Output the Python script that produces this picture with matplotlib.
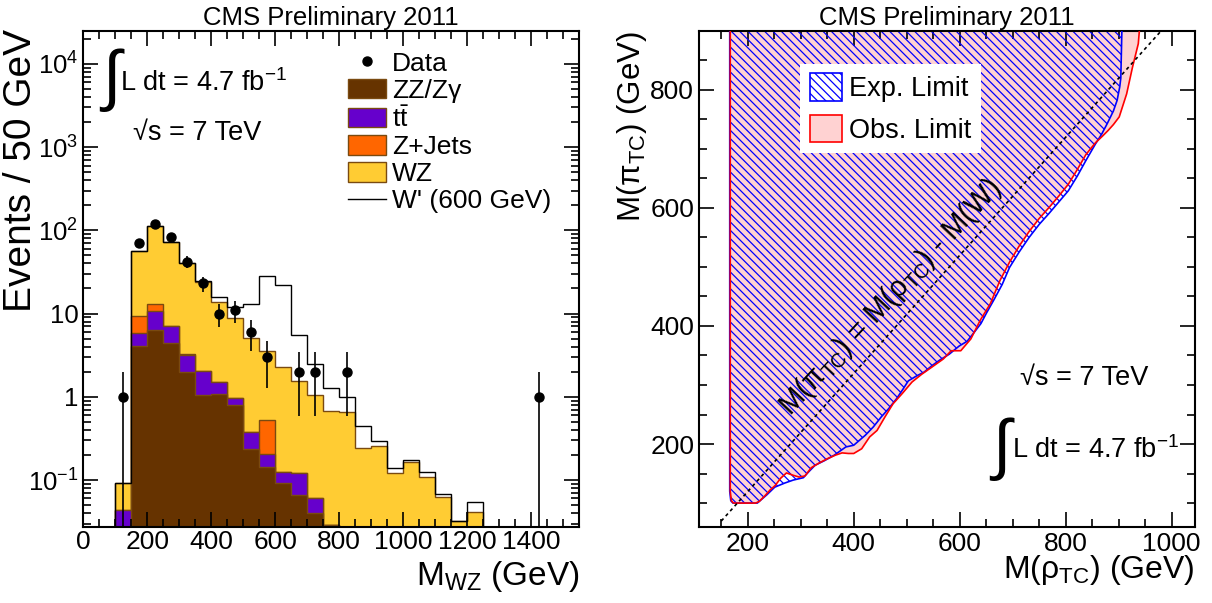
import numpy as np
import matplotlib
matplotlib.use('Agg')
import matplotlib.pyplot as plt
from matplotlib.patches import Patch
from matplotlib.lines import Line2D
from matplotlib.ticker import MultipleLocator, LogLocator, NullFormatter

plt.rcParams['font.family'] = ['Liberation Sans', 'DejaVu Sans']
plt.rcParams['mathtext.fontset'] = 'custom'
plt.rcParams['mathtext.rm'] = 'Liberation Sans'
plt.rcParams['mathtext.it'] = 'Liberation Sans:italic'
plt.rcParams['mathtext.bf'] = 'Liberation Sans:bold'
plt.rcParams['mathtext.sf'] = 'Liberation Sans'
plt.rcParams['hatch.linewidth'] = 0.9

# ---- left panel: M_WZ spectrum, 50 GeV bins from 100 to 1250
edges = np.arange(100, 1251, 50)
zz = [0, 4.06, 6.4, 4.37, 1.96, 1.05, 1.09, 0.79, 0.233, 0.145, 0.091, 0.066,
      0.04, 0.029, 0, 0, 0, 0, 0, 0, 0, 0, 0]
ttbar = [0.044, 1.84, 4.2, 2.68, 1.2, 1.0, 0.41, 0.165, 0.147, 0.06, 0.035, 0.054,
         0.02, 0, 0, 0, 0, 0, 0, 0, 0, 0, 0]
zjets = [0, 3.4, 2.6, 0, 0.15, 0, 0, 0, 0, 0.32, 0, 0,
         0, 0, 0, 0, 0, 0, 0, 0, 0, 0, 0]
wz = [0.047, 47.2, 98.5, 65.3, 36.9, 22.0, 12.4, 7.9, 4.77, 3.03, 2.16, 1.44,
      0.98, 0.64, 0.66, 0.24, 0.258, 0.12, 0.166, 0.108, 0.063, 0.032, 0.041]
wprime = [0, 0, 0, 0, 0.5, 0.4, 1.7, 3.1, 7.75, 24.7, 19.8, 4.0,
          1.46, 0.61, 0.34, 0.21, 0.04, 0.018, 0.008, 0.016, 0.005, 0, 0.014]

data_mass = [125, 175, 225, 275, 325, 375, 425, 475, 525, 575, 675, 725, 825, 1425]
data_counts = [1, 70, 120, 82, 42, 23, 10, 11, 6, 3, 2, 2, 2, 1]

ytick_vals = [0.1, 1, 10, 100, 1000, 10000]
ytick_labels = ['10$^{-1}$', '1', '10', '10$^{2}$', '10$^{3}$', '10$^{4}$']

# ---- right panel: exclusion contours in (M(rho_TC), M(pi_TC))
exp_rho = [166, 166, 168, 172, 218, 236, 251, 270, 286, 305, 314, 327, 345, 363,
           385, 400, 422, 437, 452, 466, 481, 493, 503, 518, 533, 548, 562, 580,
           599, 614, 628, 640, 650, 665, 680, 694, 712, 731, 750, 768, 787, 805,
           822, 838, 856, 868, 878, 890, 897, 902, 904, 905, 906]
exp_pi = [900, 120, 104, 100, 100, 114, 127, 134, 139, 143, 152, 164, 172, 181,
          195, 198, 215, 229, 246, 260, 277, 293, 307, 315, 322, 333, 342, 352,
          366, 374, 390, 404, 421, 445, 470, 499, 525, 550, 572, 590, 610, 629,
          654, 680, 708, 725, 742, 764, 782, 805, 820, 860, 900]
obs_rho = [167, 167, 169, 173, 215, 222, 232, 242, 252, 262, 273, 286, 297, 308,
           320, 335, 350, 365, 378, 390, 400, 415, 430, 444, 459, 474, 492, 510,
           528, 547, 569, 584, 602, 621, 639, 658, 676, 694, 712, 731, 750, 768,
           787, 805, 822, 838, 856, 870, 880, 890, 901, 915, 926, 937, 939]
obs_pi = [900, 120, 104, 100, 100, 103, 112, 122, 130, 142, 151, 147, 144, 146,
          160, 168, 175, 181, 185, 184, 184, 192, 212, 223, 246, 268, 286, 305,
          318, 330, 344, 358, 358, 378, 410, 438, 477, 508, 535, 560, 582, 600,
          620, 640, 665, 690, 710, 722, 731, 741, 754, 793, 838, 878, 900]
mass_w = 80.4
line_rho = [150, 980.4]

col_zz = '#663300'
col_tt = '#6600cc'
col_zj = '#ff6600'
col_wz = '#ffcc33'
col_edge = '#7a4a10'

fig = plt.figure(figsize=(12.12, 6.03), dpi=100)
ax1 = fig.add_axes([83.3/1212, 76.3/603, 496/1212, 496/603])
ax2 = fig.add_axes([699/1212, 76.3/603, 496/1212, 496/603])

# stacked backgrounds, drawn as cumulative fills (largest first, like THStack)
s_zz = np.array(zz)
s_tt = s_zz + np.array(ttbar)
s_zj = s_tt + np.array(zjets)
s_wz = s_zj + np.array(wz)
s_wp = s_wz + np.array(wprime)

for vals, fc in [(s_wz, col_wz), (s_zj, col_zj), (s_tt, col_tt), (s_zz, col_zz)]:
    ax1.stairs(vals, edges, baseline=1e-3, fill=True, facecolor=fc,
               edgecolor=col_edge, linewidth=1.0)
ax1.stairs(s_wp, edges, baseline=1e-3, fill=False, color='black', linewidth=1.0)

dc = np.array(data_counts, dtype=float)
ax1.errorbar(data_mass, dc, yerr=np.sqrt(dc), fmt='o', color='black',
             markersize=6.5, elinewidth=1.2, capsize=0)

ax1.set_yscale('log')
ax1.set_xlim(0, 1550)
ax1.set_ylim(0.0275, 2.5e4)
ax1.xaxis.set_major_locator(MultipleLocator(200))
ax1.xaxis.set_minor_locator(MultipleLocator(50))
ax1.set_yticks(ytick_vals)
ax1.set_yticklabels(ytick_labels)
ax1.yaxis.set_minor_locator(LogLocator(base=10, subs=np.arange(2, 10)))
ax1.yaxis.set_minor_formatter(NullFormatter())

ax1.set_xlabel(r'M$_{\mathrm{WZ}}$ (GeV)', fontsize=24, loc='right')
ax1.xaxis.set_label_coords(1.0, -0.065)
ax1.set_ylabel('Events / 50 GeV', fontsize=28, loc='top')
ax1.yaxis.set_label_coords(-0.09, 1.003)
ax1.set_title('CMS Preliminary 2011', fontsize=18.5, pad=4)

handles = [Line2D([], [], marker='o', color='black', linestyle='none', markersize=6.5),
           Patch(facecolor=col_zz, edgecolor=col_edge),
           Patch(facecolor=col_tt, edgecolor=col_edge),
           Patch(facecolor=col_zj, edgecolor=col_edge),
           Patch(facecolor=col_wz, edgecolor=col_edge),
           Line2D([], [], color='black', linewidth=1.0)]
labels = ['Data', 'ZZ/Z\u03b3', r'$\mathrm{t\bar{t}}$', 'Z+Jets', 'WZ', "W' (600 GeV)"]
ax1.legend(handles, labels, loc='upper left', bbox_to_anchor=(0.534, 0.958),
           frameon=False, fontsize=19, labelspacing=0.12, handlelength=1.45,
           handleheight=0.76, handletextpad=0.2, borderpad=0, borderaxespad=0)

ax1.text(0.056, 0.90, '\u222b', transform=ax1.transAxes, fontsize=48,
         ha='center', va='center')
ax1.text(0.075, 0.878, r'L dt = 4.7 fb$^{-1}$', transform=ax1.transAxes,
         fontsize=19.5, va='baseline')
ax1.text(0.1, 0.78, '\u221as = 7 TeV', transform=ax1.transAxes,
         fontsize=19.5, va='baseline')

# ---- right panel
ax2.fill(obs_rho, obs_pi, facecolor='#ffd2d2', edgecolor='none', zorder=1)
ax2.fill(exp_rho, exp_pi, facecolor='none', edgecolor='blue', hatch='\\\\\\\\',
         linewidth=0, zorder=2)
ax2.plot(exp_rho, exp_pi, color='blue', linewidth=1.2, zorder=3)
ax2.plot(obs_rho, obs_pi, color='red', linewidth=1.2, zorder=3)
ax2.plot(line_rho, [r - mass_w for r in line_rho], color='black',
         linestyle=(0, (2, 2)), linewidth=1.2, zorder=4)

ax2.set_xlim(108, 1044)
ax2.set_ylim(60, 900)
ax2.xaxis.set_major_locator(MultipleLocator(200))
ax2.xaxis.set_minor_locator(MultipleLocator(50))
ax2.yaxis.set_major_locator(MultipleLocator(200))
ax2.yaxis.set_minor_locator(MultipleLocator(50))

ax2.set_xlabel(r'M($\mathrm{\rho_{TC}}$) (GeV)', fontsize=23, loc='right')
ax2.xaxis.set_label_coords(1.0, -0.054)
ax2.set_ylabel(r'M($\mathrm{\pi_{TC}}$) (GeV)', fontsize=22.5, loc='top')
ax2.yaxis.set_label_coords(-0.1, 1.0)
ax2.set_title('CMS Preliminary 2011', fontsize=18.5, pad=4)

leg_handles = [Patch(facecolor='white', edgecolor='blue', hatch='\\\\\\\\', linewidth=1.2),
               Patch(facecolor='#ffd2d2', edgecolor='red', linewidth=1.2)]
leg2 = ax2.legend(leg_handles, ['Exp. Limit', 'Obs. Limit'], loc='upper left',
                  bbox_to_anchor=(0.204, 0.933), fontsize=19.5, frameon=True,
                  fancybox=False, edgecolor='none', facecolor='white', framealpha=1,
                  handlelength=1.2, handleheight=1.2, labelspacing=0.45,
                  handletextpad=0.25, borderpad=0.35, borderaxespad=0)
leg2.set_zorder(6)

ax2.text(0.385, 0.463, r'M($\mathrm{\pi_{TC}}$) = M($\mathrm{\rho_{TC}}$) - M(W)',
         transform=ax2.transAxes, fontsize=21, rotation=47, rotation_mode='anchor',
         ha='center', va='center', zorder=5)
ax2.text(0.647, 0.286, '\u221as = 7 TeV', transform=ax2.transAxes,
         fontsize=19.5, va='baseline')
ax2.text(0.609, 0.156, '\u222b', transform=ax2.transAxes, fontsize=48,
         ha='center', va='center')
ax2.text(0.631, 0.139, r'L dt = 4.7 fb$^{-1}$', transform=ax2.transAxes,
         fontsize=19.5, va='baseline')

for ax in (ax1, ax2):
    for sp in ax.spines.values():
        sp.set_linewidth(1.5)
    ax.tick_params(which='both', direction='in', top=True, right=True, width=1.2)
    ax.tick_params(which='major', length=10.5, labelsize=19)
    ax.tick_params(which='minor', length=5.5)
ax1.tick_params(axis='x', pad=2.5)
ax1.tick_params(axis='y', pad=3.5, labelsize=18.5)
ax2.tick_params(axis='x', pad=3.5)
ax2.tick_params(axis='y', pad=3.5)

fig.savefig('out.png', dpi=100)
